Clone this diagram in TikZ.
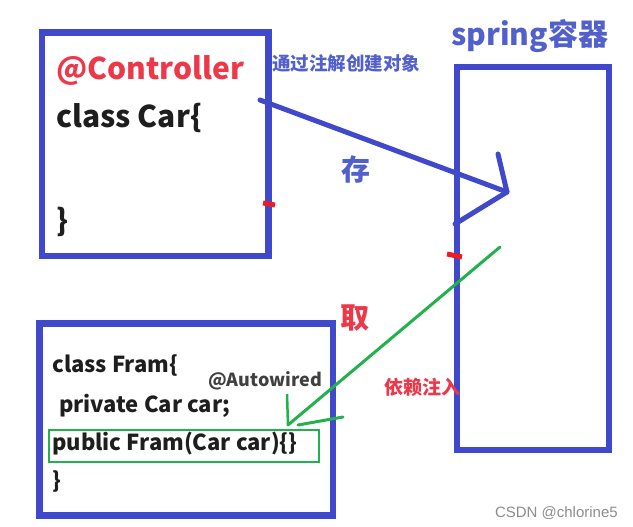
\documentclass[tikz,border=0pt]{standalone}
\usepackage{fontspec}
\newfontfamily\cjk{Noto Sans CJK SC}
\newfontfamily\wmfont{Liberation Sans}
\definecolor{boxblue}{RGB}{64,72,204}
\definecolor{txtblue}{RGB}{82,96,204}
\definecolor{mred}{RGB}{237,28,36}
\definecolor{tred}{RGB}{236,56,72}
\definecolor{mgreen}{RGB}{34,177,76}
\definecolor{dtext}{RGB}{30,30,30}
\tikzset{
  bigbox/.style={draw=boxblue,line width=6.5pt,anchor=north west,inner sep=0pt},
  code/.style={font=\cjk\bfseries\fontsize{#1}{#1}\selectfont,text=dtext,anchor=base west,inner sep=0pt},
  lbl/.style={font=\cjk\bfseries\fontsize{#1}{#1}\selectfont,inner sep=0pt},
  redmark/.style={draw=mred,line width=5pt},
}
\begin{document}
\begin{tikzpicture}[x=1pt,y=-1pt]
\useasboundingbox (0,0) rectangle (633,527);
% boxes
\node[bigbox,minimum width=226.5pt,minimum height=223pt] (car) at (38.5,29.5) {};
\node[bigbox,minimum width=152pt,minimum height=382.5pt] (spring) at (453.5,64) {};
\node[bigbox,minimum width=293.5pt,minimum height=192pt] (fram) at (36,320) {};
% car code
\node[code=30,text=tred] (ctl) at (56,80) {@Controller};
\node[code=30] (cls) at (56,128) {class Car\{};
\node[code=30] (cend) at (56,232) {\}};
% fram code
\node[code=22] (f1) at (52,372) {class Fram\{};
\node[code=22] (f2) at (59,412) {private Car car;};
\node[code=22] (f3) at (52,450) {public Fram(Car car)\{\}};
\node[code=22] (f4) at (52,488) {\}};
\node[draw=mgreen,line width=2.2pt,anchor=north west,minimum width=270.5pt,minimum height=32pt,inner sep=0pt] (pub) at (47.5,429) {};
\node[code=18,text=dtext!85] (auto) at (208,386) {@Autowired};
% labels
\node[lbl=30,text=txtblue,anchor=base west] (spr) at (451,46) {spring容器};
\node[lbl=18.5,text=txtblue,anchor=west] (anno) at (272,63) {通过注解创建对象};
\node[lbl=29,text=txtblue] (cun) at (356,169) {存};
\node[lbl=29,text=tred] (qu) at (355,318) {取};
\node[lbl=19,text=tred] (yl) at (422,387) {依赖注入};
\node[font=\wmfont\fontsize{15}{15}\selectfont,text=black!45,anchor=base east,inner sep=0pt] (wm) at (618,517) {CSDN @chlorine5};
% blue arrow (hand drawn)
\coordinate (bs) at (260,100);
\coordinate (bt) at (507,192);
\coordinate (bh1) at (498,154);
\coordinate (bh2) at (455,224);
\draw[boxblue,line width=5pt,line cap=round] (bs) -- (bt);
\draw[boxblue,line width=5pt,line cap=round,line join=round] (bh1) -- (bt) -- (bh2);
% green arrow (hand drawn)
\coordinate (gs) at (500,247);
\coordinate (gt) at (288,425);
\coordinate (gh1) at (287,394);
\coordinate (gh0) at (298,425);
\coordinate (gh2) at (343,417);
\draw[mgreen,line width=3pt,line cap=round] (gs) -- (gt);
\draw[mgreen,line width=2.5pt] (gh1) -- (gt);
\draw[mgreen,line width=3pt,line cap=round] (gh0) -- (gh2);
% red marks
\draw[redmark] (263,203) -- (275,205);
\draw[redmark] (447,254) -- (462,257);
\end{tikzpicture}
\end{document}
